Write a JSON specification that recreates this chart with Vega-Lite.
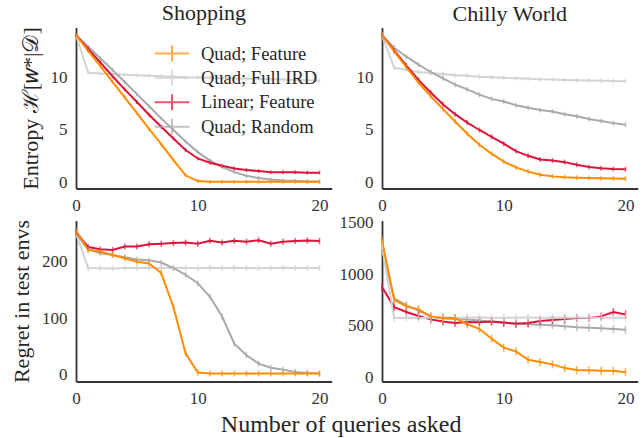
{
"$schema": "https://vega.github.io/schema/vega-lite/v6.json",
"padding": {"left": 10, "top": 1.5, "right": 5, "bottom": 4},
"bounds": "flush",
"columns": 2,
"spacing": {"row": 32, "column": 50},
"resolve": {"scale": {"color": "independent", "x": "independent", "y": "independent"}, "legend": {"color": "independent"}},
"title": {"text": "Number of queries asked", "orient": "bottom", "anchor": "middle", "fontSize": 24, "font": "Liberation Serif", "fontWeight": "normal", "color": "#262626", "offset": 6, "dx": 17},
"config": {
  "view": {"stroke": null},
  "font": "Liberation Serif",
  "axis": {"grid": false, "ticks": false, "domainColor": "#333333", "domainWidth": 1.8, "labelFont": "Liberation Serif", "labelFontSize": 17, "labelColor": "#333333", "labelPadding": 9, "labelFlush": false, "labelOverlap": false, "titleFont": "Liberation Serif", "titleFontSize": 22, "titleFontWeight": "normal", "titleColor": "#262626", "titlePadding": 8, "format": "d"},
  "legend": {"labelFont": "Liberation Serif"},
  "title": {"font": "Liberation Serif", "fontSize": 22, "fontWeight": "normal", "color": "#262626", "offset": 2}
},
"datasets": {
"shopEnt": [
{"m":"Quad; Full IRD","q":0,"v":14.0},{"m":"Quad; Full IRD","q":1,"v":10.45},{"m":"Quad; Full IRD","q":2,"v":10.35},{"m":"Quad; Full IRD","q":3,"v":10.3},{"m":"Quad; Full IRD","q":4,"v":10.25},{"m":"Quad; Full IRD","q":5,"v":10.2},{"m":"Quad; Full IRD","q":6,"v":10.15},{"m":"Quad; Full IRD","q":7,"v":10.1},{"m":"Quad; Full IRD","q":8,"v":10.05},{"m":"Quad; Full IRD","q":9,"v":10.0},{"m":"Quad; Full IRD","q":10,"v":9.98},{"m":"Quad; Full IRD","q":11,"v":9.95},{"m":"Quad; Full IRD","q":12,"v":9.92},{"m":"Quad; Full IRD","q":13,"v":9.9},{"m":"Quad; Full IRD","q":14,"v":9.87},{"m":"Quad; Full IRD","q":15,"v":9.85},{"m":"Quad; Full IRD","q":16,"v":9.82},{"m":"Quad; Full IRD","q":17,"v":9.78},{"m":"Quad; Full IRD","q":18,"v":9.75},{"m":"Quad; Full IRD","q":19,"v":9.72},{"m":"Quad; Full IRD","q":20,"v":9.68},
{"m":"Quad; Random","q":0,"v":14.0},{"m":"Quad; Random","q":1,"v":12.9},{"m":"Quad; Random","q":2,"v":11.8},{"m":"Quad; Random","q":3,"v":10.7},{"m":"Quad; Random","q":4,"v":9.55},{"m":"Quad; Random","q":5,"v":8.4},{"m":"Quad; Random","q":6,"v":7.25},{"m":"Quad; Random","q":7,"v":6.1},{"m":"Quad; Random","q":8,"v":5.0},{"m":"Quad; Random","q":9,"v":3.9},{"m":"Quad; Random","q":10,"v":2.9},{"m":"Quad; Random","q":11,"v":2.1},{"m":"Quad; Random","q":12,"v":1.5},{"m":"Quad; Random","q":13,"v":1.0},{"m":"Quad; Random","q":14,"v":0.65},{"m":"Quad; Random","q":15,"v":0.45},{"m":"Quad; Random","q":16,"v":0.3},{"m":"Quad; Random","q":17,"v":0.2},{"m":"Quad; Random","q":18,"v":0.15},{"m":"Quad; Random","q":19,"v":0.12},{"m":"Quad; Random","q":20,"v":0.1},
{"m":"Linear; Feature","q":0,"v":14.0},{"m":"Linear; Feature","q":1,"v":12.7},{"m":"Linear; Feature","q":2,"v":11.4},{"m":"Linear; Feature","q":3,"v":10.1},{"m":"Linear; Feature","q":4,"v":8.85},{"m":"Linear; Feature","q":5,"v":7.65},{"m":"Linear; Feature","q":6,"v":6.45},{"m":"Linear; Feature","q":7,"v":5.3},{"m":"Linear; Feature","q":8,"v":4.2},{"m":"Linear; Feature","q":9,"v":3.1},{"m":"Linear; Feature","q":10,"v":2.3},{"m":"Linear; Feature","q":11,"v":1.9},{"m":"Linear; Feature","q":12,"v":1.6},{"m":"Linear; Feature","q":13,"v":1.35},{"m":"Linear; Feature","q":14,"v":1.2},{"m":"Linear; Feature","q":15,"v":1.1},{"m":"Linear; Feature","q":16,"v":1.0},{"m":"Linear; Feature","q":17,"v":1.0},{"m":"Linear; Feature","q":18,"v":1.0},{"m":"Linear; Feature","q":19,"v":0.95},{"m":"Linear; Feature","q":20,"v":0.95},
{"m":"Quad; Feature","q":0,"v":14.0},{"m":"Quad; Feature","q":1,"v":12.5},{"m":"Quad; Feature","q":2,"v":11.05},{"m":"Quad; Feature","q":3,"v":9.55},{"m":"Quad; Feature","q":4,"v":8.1},{"m":"Quad; Feature","q":5,"v":6.6},{"m":"Quad; Feature","q":6,"v":5.1},{"m":"Quad; Feature","q":7,"v":3.65},{"m":"Quad; Feature","q":8,"v":2.15},{"m":"Quad; Feature","q":9,"v":0.7},{"m":"Quad; Feature","q":10,"v":0.15},{"m":"Quad; Feature","q":11,"v":0.1},{"m":"Quad; Feature","q":12,"v":0.1},{"m":"Quad; Feature","q":13,"v":0.1},{"m":"Quad; Feature","q":14,"v":0.1},{"m":"Quad; Feature","q":15,"v":0.1},{"m":"Quad; Feature","q":16,"v":0.1},{"m":"Quad; Feature","q":17,"v":0.1},{"m":"Quad; Feature","q":18,"v":0.1},{"m":"Quad; Feature","q":19,"v":0.1},{"m":"Quad; Feature","q":20,"v":0.1}
],
"chillyEnt": [
{"m":"Quad; Full IRD","q":0,"v":14.0},{"m":"Quad; Full IRD","q":1,"v":10.9},{"m":"Quad; Full IRD","q":2,"v":10.7},{"m":"Quad; Full IRD","q":3,"v":10.5},{"m":"Quad; Full IRD","q":4,"v":10.4},{"m":"Quad; Full IRD","q":5,"v":10.3},{"m":"Quad; Full IRD","q":6,"v":10.2},{"m":"Quad; Full IRD","q":7,"v":10.15},{"m":"Quad; Full IRD","q":8,"v":10.05},{"m":"Quad; Full IRD","q":9,"v":10.0},{"m":"Quad; Full IRD","q":10,"v":9.95},{"m":"Quad; Full IRD","q":11,"v":9.9},{"m":"Quad; Full IRD","q":12,"v":9.85},{"m":"Quad; Full IRD","q":13,"v":9.8},{"m":"Quad; Full IRD","q":14,"v":9.78},{"m":"Quad; Full IRD","q":15,"v":9.75},{"m":"Quad; Full IRD","q":16,"v":9.72},{"m":"Quad; Full IRD","q":17,"v":9.7},{"m":"Quad; Full IRD","q":18,"v":9.67},{"m":"Quad; Full IRD","q":19,"v":9.64},{"m":"Quad; Full IRD","q":20,"v":9.62},
{"m":"Quad; Random","q":0,"v":14.0},{"m":"Quad; Random","q":1,"v":12.8},{"m":"Quad; Random","q":2,"v":11.95},{"m":"Quad; Random","q":3,"v":11.2},{"m":"Quad; Random","q":4,"v":10.5},{"m":"Quad; Random","q":5,"v":9.9},{"m":"Quad; Random","q":6,"v":9.3},{"m":"Quad; Random","q":7,"v":8.85},{"m":"Quad; Random","q":8,"v":8.35},{"m":"Quad; Random","q":9,"v":7.95},{"m":"Quad; Random","q":10,"v":7.7},{"m":"Quad; Random","q":11,"v":7.35},{"m":"Quad; Random","q":12,"v":7.1},{"m":"Quad; Random","q":13,"v":6.9},{"m":"Quad; Random","q":14,"v":6.75},{"m":"Quad; Random","q":15,"v":6.5},{"m":"Quad; Random","q":16,"v":6.3},{"m":"Quad; Random","q":17,"v":6.05},{"m":"Quad; Random","q":18,"v":5.85},{"m":"Quad; Random","q":19,"v":5.65},{"m":"Quad; Random","q":20,"v":5.5},
{"m":"Linear; Feature","q":0,"v":14.0},{"m":"Linear; Feature","q":1,"v":12.55},{"m":"Linear; Feature","q":2,"v":11.1},{"m":"Linear; Feature","q":3,"v":9.75},{"m":"Linear; Feature","q":4,"v":8.55},{"m":"Linear; Feature","q":5,"v":7.45},{"m":"Linear; Feature","q":6,"v":6.5},{"m":"Linear; Feature","q":7,"v":5.7},{"m":"Linear; Feature","q":8,"v":5.0},{"m":"Linear; Feature","q":9,"v":4.35},{"m":"Linear; Feature","q":10,"v":3.7},{"m":"Linear; Feature","q":11,"v":3.0},{"m":"Linear; Feature","q":12,"v":2.55},{"m":"Linear; Feature","q":13,"v":2.2},{"m":"Linear; Feature","q":14,"v":2.1},{"m":"Linear; Feature","q":15,"v":1.95},{"m":"Linear; Feature","q":16,"v":1.7},{"m":"Linear; Feature","q":17,"v":1.5},{"m":"Linear; Feature","q":18,"v":1.38},{"m":"Linear; Feature","q":19,"v":1.3},{"m":"Linear; Feature","q":20,"v":1.28},
{"m":"Quad; Feature","q":0,"v":14.0},{"m":"Quad; Feature","q":1,"v":12.45},{"m":"Quad; Feature","q":2,"v":10.95},{"m":"Quad; Feature","q":3,"v":9.5},{"m":"Quad; Feature","q":4,"v":8.2},{"m":"Quad; Feature","q":5,"v":7.0},{"m":"Quad; Feature","q":6,"v":5.8},{"m":"Quad; Feature","q":7,"v":4.65},{"m":"Quad; Feature","q":8,"v":3.6},{"m":"Quad; Feature","q":9,"v":2.75},{"m":"Quad; Feature","q":10,"v":2.0},{"m":"Quad; Feature","q":11,"v":1.45},{"m":"Quad; Feature","q":12,"v":1.05},{"m":"Quad; Feature","q":13,"v":0.75},{"m":"Quad; Feature","q":14,"v":0.6},{"m":"Quad; Feature","q":15,"v":0.52},{"m":"Quad; Feature","q":16,"v":0.47},{"m":"Quad; Feature","q":17,"v":0.44},{"m":"Quad; Feature","q":18,"v":0.42},{"m":"Quad; Feature","q":19,"v":0.4},{"m":"Quad; Feature","q":20,"v":0.38}
],
"shopReg": [
{"m":"Quad; Full IRD","q":0,"v":250},{"m":"Quad; Full IRD","q":1,"v":189},{"m":"Quad; Full IRD","q":2,"v":188.5},{"m":"Quad; Full IRD","q":3,"v":188},{"m":"Quad; Full IRD","q":4,"v":189},{"m":"Quad; Full IRD","q":5,"v":189},{"m":"Quad; Full IRD","q":6,"v":189.5},{"m":"Quad; Full IRD","q":7,"v":189},{"m":"Quad; Full IRD","q":8,"v":189.5},{"m":"Quad; Full IRD","q":9,"v":189},{"m":"Quad; Full IRD","q":10,"v":188.5},{"m":"Quad; Full IRD","q":11,"v":189.5},{"m":"Quad; Full IRD","q":12,"v":189},{"m":"Quad; Full IRD","q":13,"v":189.5},{"m":"Quad; Full IRD","q":14,"v":189},{"m":"Quad; Full IRD","q":15,"v":188.5},{"m":"Quad; Full IRD","q":16,"v":189},{"m":"Quad; Full IRD","q":17,"v":189.5},{"m":"Quad; Full IRD","q":18,"v":189},{"m":"Quad; Full IRD","q":19,"v":189},{"m":"Quad; Full IRD","q":20,"v":189},
{"m":"Quad; Random","q":0,"v":250},{"m":"Quad; Random","q":1,"v":222},{"m":"Quad; Random","q":2,"v":215},{"m":"Quad; Random","q":3,"v":212},{"m":"Quad; Random","q":4,"v":208},{"m":"Quad; Random","q":5,"v":204},{"m":"Quad; Random","q":6,"v":202.5},{"m":"Quad; Random","q":7,"v":198.7},{"m":"Quad; Random","q":8,"v":188.6},{"m":"Quad; Random","q":9,"v":177},{"m":"Quad; Random","q":10,"v":162},{"m":"Quad; Random","q":11,"v":138},{"m":"Quad; Random","q":12,"v":103},{"m":"Quad; Random","q":13,"v":55},{"m":"Quad; Random","q":14,"v":34.5},{"m":"Quad; Random","q":15,"v":19.6},{"m":"Quad; Random","q":16,"v":12.5},{"m":"Quad; Random","q":17,"v":9},{"m":"Quad; Random","q":18,"v":4.8},{"m":"Quad; Random","q":19,"v":3},{"m":"Quad; Random","q":20,"v":2},
{"m":"Linear; Feature","q":0,"v":253},{"m":"Linear; Feature","q":1,"v":226},{"m":"Linear; Feature","q":2,"v":222},{"m":"Linear; Feature","q":3,"v":221},{"m":"Linear; Feature","q":4,"v":227},{"m":"Linear; Feature","q":5,"v":227},{"m":"Linear; Feature","q":6,"v":231},{"m":"Linear; Feature","q":7,"v":232},{"m":"Linear; Feature","q":8,"v":233},{"m":"Linear; Feature","q":9,"v":234},{"m":"Linear; Feature","q":10,"v":232},{"m":"Linear; Feature","q":11,"v":237},{"m":"Linear; Feature","q":12,"v":234},{"m":"Linear; Feature","q":13,"v":237},{"m":"Linear; Feature","q":14,"v":235.5},{"m":"Linear; Feature","q":15,"v":238},{"m":"Linear; Feature","q":16,"v":232},{"m":"Linear; Feature","q":17,"v":235.5},{"m":"Linear; Feature","q":18,"v":236.5},{"m":"Linear; Feature","q":19,"v":237.7},{"m":"Linear; Feature","q":20,"v":236.5},
{"m":"Quad; Feature","q":0,"v":255},{"m":"Quad; Feature","q":1,"v":221},{"m":"Quad; Feature","q":2,"v":218},{"m":"Quad; Feature","q":3,"v":212},{"m":"Quad; Feature","q":4,"v":206},{"m":"Quad; Feature","q":5,"v":200},{"m":"Quad; Feature","q":6,"v":197},{"m":"Quad; Feature","q":7,"v":180},{"m":"Quad; Feature","q":8,"v":120},{"m":"Quad; Feature","q":9,"v":38},{"m":"Quad; Feature","q":10,"v":4},{"m":"Quad; Feature","q":11,"v":2},{"m":"Quad; Feature","q":12,"v":2},{"m":"Quad; Feature","q":13,"v":2},{"m":"Quad; Feature","q":14,"v":2},{"m":"Quad; Feature","q":15,"v":2},{"m":"Quad; Feature","q":16,"v":2},{"m":"Quad; Feature","q":17,"v":2},{"m":"Quad; Feature","q":18,"v":2},{"m":"Quad; Feature","q":19,"v":2},{"m":"Quad; Feature","q":20,"v":2}
],
"chillyReg": [
{"m":"Quad; Random","q":0,"v":1250},{"m":"Quad; Random","q":1,"v":765},{"m":"Quad; Random","q":2,"v":700},{"m":"Quad; Random","q":3,"v":645},{"m":"Quad; Random","q":4,"v":590},{"m":"Quad; Random","q":5,"v":570},{"m":"Quad; Random","q":6,"v":565},{"m":"Quad; Random","q":7,"v":560},{"m":"Quad; Random","q":8,"v":550},{"m":"Quad; Random","q":9,"v":540},{"m":"Quad; Random","q":10,"v":530},{"m":"Quad; Random","q":11,"v":522},{"m":"Quad; Random","q":12,"v":515},{"m":"Quad; Random","q":13,"v":510},{"m":"Quad; Random","q":14,"v":505},{"m":"Quad; Random","q":15,"v":495},{"m":"Quad; Random","q":16,"v":485},{"m":"Quad; Random","q":17,"v":480},{"m":"Quad; Random","q":18,"v":475},{"m":"Quad; Random","q":19,"v":468},{"m":"Quad; Random","q":20,"v":462},
{"m":"Linear; Feature","q":0,"v":875},{"m":"Linear; Feature","q":1,"v":681},{"m":"Linear; Feature","q":2,"v":633},{"m":"Linear; Feature","q":3,"v":594},{"m":"Linear; Feature","q":4,"v":562},{"m":"Linear; Feature","q":5,"v":542},{"m":"Linear; Feature","q":6,"v":526},{"m":"Linear; Feature","q":7,"v":536},{"m":"Linear; Feature","q":8,"v":535},{"m":"Linear; Feature","q":9,"v":542},{"m":"Linear; Feature","q":10,"v":532},{"m":"Linear; Feature","q":11,"v":519},{"m":"Linear; Feature","q":12,"v":526},{"m":"Linear; Feature","q":13,"v":546},{"m":"Linear; Feature","q":14,"v":556},{"m":"Linear; Feature","q":15,"v":565},{"m":"Linear; Feature","q":16,"v":575},{"m":"Linear; Feature","q":17,"v":575},{"m":"Linear; Feature","q":18,"v":591},{"m":"Linear; Feature","q":19,"v":633},{"m":"Linear; Feature","q":20,"v":610},
{"m":"Quad; Full IRD","q":0,"v":1275},{"m":"Quad; Full IRD","q":1,"v":575},{"m":"Quad; Full IRD","q":2,"v":578},{"m":"Quad; Full IRD","q":3,"v":576},{"m":"Quad; Full IRD","q":4,"v":578},{"m":"Quad; Full IRD","q":5,"v":579},{"m":"Quad; Full IRD","q":6,"v":577},{"m":"Quad; Full IRD","q":7,"v":578},{"m":"Quad; Full IRD","q":8,"v":579},{"m":"Quad; Full IRD","q":9,"v":578},{"m":"Quad; Full IRD","q":10,"v":577},{"m":"Quad; Full IRD","q":11,"v":578},{"m":"Quad; Full IRD","q":12,"v":579},{"m":"Quad; Full IRD","q":13,"v":578},{"m":"Quad; Full IRD","q":14,"v":577},{"m":"Quad; Full IRD","q":15,"v":578},{"m":"Quad; Full IRD","q":16,"v":579},{"m":"Quad; Full IRD","q":17,"v":578},{"m":"Quad; Full IRD","q":18,"v":577},{"m":"Quad; Full IRD","q":19,"v":578},{"m":"Quad; Full IRD","q":20,"v":578},
{"m":"Quad; Feature","q":0,"v":1330},{"m":"Quad; Feature","q":1,"v":752},{"m":"Quad; Feature","q":2,"v":688},{"m":"Quad; Feature","q":3,"v":659},{"m":"Quad; Feature","q":4,"v":591},{"m":"Quad; Feature","q":5,"v":575},{"m":"Quad; Feature","q":6,"v":575},{"m":"Quad; Feature","q":7,"v":513},{"m":"Quad; Feature","q":8,"v":471},{"m":"Quad; Feature","q":9,"v":375},{"m":"Quad; Feature","q":10,"v":288},{"m":"Quad; Feature","q":11,"v":252},{"m":"Quad; Feature","q":12,"v":171},{"m":"Quad; Feature","q":13,"v":148},{"m":"Quad; Feature","q":14,"v":126},{"m":"Quad; Feature","q":15,"v":90},{"m":"Quad; Feature","q":16,"v":71},{"m":"Quad; Feature","q":17,"v":68},{"m":"Quad; Feature","q":18,"v":64},{"m":"Quad; Feature","q":19,"v":64},{"m":"Quad; Feature","q":20,"v":50}
]
},
"concat": [
{
 "width": 255.7, "height": 161,
 "data": {"name": "shopEnt"},
 "title": "Shopping",
 "layer": [
  {"mark": {"type": "line", "strokeWidth": 2},
   "encoding": {
    "x": {"field": "q", "type": "quantitative", "scale": {"domain": [0, 21], "nice": false, "zero": false}, "axis": {"values": [0, 10, 20], "title": null}},
    "y": {"field": "v", "type": "quantitative", "scale": {"domain": [-0.55, 14.72], "nice": false, "zero": false}, "axis": {"values": [0, 5, 10], "title": "Entropy ℋ[𝑤*|𝒟]"}},
    "color": {"field": "m", "type": "nominal", "scale": {"domain": ["Quad; Feature", "Quad; Full IRD", "Linear; Feature", "Quad; Random"], "range": ["#FF8C00", "#D3D3D3", "#DC143C", "#A9A9A9"]},
     "legend": {"orient": "none", "legendX": 85, "legendY": 15, "title": null, "symbolType": "M-1.75,0H1.75M0,-0.8V0.8", "symbolSize": 400, "symbolStrokeWidth": 2, "labelFont": "Liberation Serif", "labelFontSize": 18.5, "labelColor": "#262626", "labelOffset": 18, "rowPadding": 0.4, "padding": 0}}
   }},
  {"mark": {"type": "tick", "orient": "vertical", "size": 4, "thickness": 1.5},
   "encoding": {
    "x": {"field": "q", "type": "quantitative"},
    "y": {"field": "v", "type": "quantitative"},
    "color": {"field": "m", "type": "nominal"}
   }}
 ]
},
{
 "width": 255.7, "height": 161,
 "data": {"name": "chillyEnt"},
 "title": "Chilly World",
 "layer": [
  {"mark": {"type": "line", "strokeWidth": 2},
   "encoding": {
    "x": {"field": "q", "type": "quantitative", "scale": {"domain": [0, 21], "nice": false, "zero": false}, "axis": {"values": [0, 10, 20], "title": null}},
    "y": {"field": "v", "type": "quantitative", "scale": {"domain": [-0.55, 14.72], "nice": false, "zero": false}, "axis": {"values": [0, 5, 10], "title": null}},
    "color": {"field": "m", "type": "nominal", "scale": {"domain": ["Quad; Feature", "Quad; Full IRD", "Linear; Feature", "Quad; Random"], "range": ["#FF8C00", "#D3D3D3", "#DC143C", "#A9A9A9"]}, "legend": null}
   }},
  {"mark": {"type": "tick", "orient": "vertical", "size": 5, "thickness": 1.5},
   "encoding": {
    "x": {"field": "q", "type": "quantitative"},
    "y": {"field": "v", "type": "quantitative"},
    "color": {"field": "m", "type": "nominal", "legend": null}
   }}
 ]
},
{
 "width": 255.7, "height": 161,
 "data": {"name": "shopReg"},
 "layer": [
  {"mark": {"type": "line", "strokeWidth": 2},
   "encoding": {
    "x": {"field": "q", "type": "quantitative", "scale": {"domain": [0, 21], "nice": false, "zero": false}, "axis": {"values": [0, 10, 20], "title": null}},
    "y": {"field": "v", "type": "quantitative", "scale": {"domain": [-12, 273], "nice": false, "zero": false}, "axis": {"values": [0, 100, 200], "title": "Regret in test envs"}},
    "color": {"field": "m", "type": "nominal", "scale": {"domain": ["Quad; Feature", "Quad; Full IRD", "Linear; Feature", "Quad; Random"], "range": ["#FF8C00", "#D3D3D3", "#DC143C", "#A9A9A9"]}, "legend": null}
   }},
  {"mark": {"type": "tick", "orient": "vertical", "size": 6, "thickness": 1.5},
   "encoding": {
    "x": {"field": "q", "type": "quantitative"},
    "y": {"field": "v", "type": "quantitative"},
    "color": {"field": "m", "type": "nominal", "legend": null}
   }}
 ]
},
{
 "width": 255.7, "height": 161,
 "data": {"name": "chillyReg"},
 "layer": [
  {"mark": {"type": "line", "strokeWidth": 2},
   "encoding": {
    "x": {"field": "q", "type": "quantitative", "scale": {"domain": [0, 21], "nice": false, "zero": false}, "axis": {"values": [0, 10, 20], "title": null}},
    "y": {"field": "v", "type": "quantitative", "scale": {"domain": [-40, 1520], "nice": false, "zero": false}, "axis": {"values": [0, 500, 1000, 1500], "title": null}},
    "color": {"field": "m", "type": "nominal", "scale": {"domain": ["Quad; Feature", "Quad; Full IRD", "Linear; Feature", "Quad; Random"], "range": ["#FF8C00", "#D3D3D3", "#DC143C", "#A9A9A9"]}, "legend": null}
   }},
  {"mark": {"type": "tick", "orient": "vertical", "size": 8, "thickness": 1.5},
   "encoding": {
    "x": {"field": "q", "type": "quantitative"},
    "y": {"field": "v", "type": "quantitative"},
    "color": {"field": "m", "type": "nominal", "legend": null}
   }}
 ]
}
]
}
